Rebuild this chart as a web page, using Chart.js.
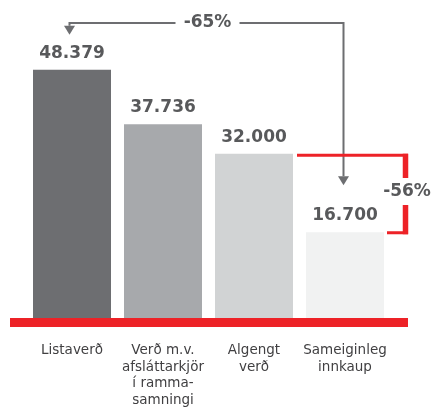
<!DOCTYPE html>
<html>
<head>
<meta charset="utf-8">
<script src="https://cdn.jsdelivr.net/npm/chart.js@4/dist/chart.umd.min.js"></script>
<style>
  html, body { margin: 0; padding: 0; background: #fff; }
  #wrap { width: 433px; height: 412px; }
</style>
</head>
<body>
<div id="wrap"><canvas id="priceChart" width="433" height="412"></canvas></div>
<script>
// Data
const categories = [
    'Listaverð',
    ['Verð m.v.', 'afsláttarkjör', 'í ramma-', 'samningi'],
    ['Algengt', 'verð'],
    ['Sameiginleg', 'innkaup']
];
const prices = [48379, 37736, 32000, 16700];
const valueLabels = ['48.379', '37.736', '32.000', '16.700'];
const barColors = ['#6d6e71', '#a7a9ac', '#d1d3d4', '#f1f2f2'];
const totalDrop = '-65%';
const groupDrop = '-56%';

const grayText = '#58595b';
const red = '#ed2227';
const numFont = 'bold 17px "DejaVu Sans"';

function arrowDown(ctx, x, y) {
    ctx.beginPath();
    ctx.moveTo(x - 5.5, y - 9);
    ctx.lineTo(x + 5.5, y - 9);
    ctx.lineTo(x, y);
    ctx.closePath();
    ctx.fill();
}

// Red baseline, value labels and brackets
const decorPlugin = {
    id: 'decor',
    afterDatasetsDraw(chart) {
        const ctx = chart.ctx;
        const bars = chart.getDatasetMeta(0).data;
        const y0 = chart.scales.y.getPixelForValue(0);
        const area = chart.chartArea;
        ctx.save();

        // baseline
        ctx.fillStyle = red;
        ctx.fillRect(area.left - 16.5, y0, area.right - area.left + 34, 9);

        // value labels
        ctx.fillStyle = grayText;
        ctx.font = numFont;
        ctx.textAlign = 'center';
        ctx.textBaseline = 'alphabetic';
        bars.forEach((bar, i) => {
            ctx.fillText(valueLabels[i], bar.x, bar.y - 12);
        });

        // gray -65% bracket
        const b1 = bars[0], b4 = bars[3];
        const topY = 23;
        const lx = b1.x - 2.5, rx = b4.x - 1.5;
        const textX = (bars[1].x + bars[2].x) / 2 - 1;
        ctx.strokeStyle = '#6d6e71';
        ctx.fillStyle = '#6d6e71';
        ctx.lineWidth = 2;
        ctx.beginPath();
        ctx.moveTo(lx, b1.y - 44);
        ctx.lineTo(lx, topY);
        ctx.lineTo(textX - 32, topY);
        ctx.moveTo(textX + 32, topY);
        ctx.lineTo(rx, topY);
        ctx.lineTo(rx, b4.y - 56);
        ctx.stroke();
        arrowDown(ctx, lx, b1.y - 35);
        arrowDown(ctx, rx, b4.y - 47);
        ctx.fillStyle = grayText;
        ctx.textBaseline = 'middle';
        ctx.fillText(totalDrop, textX, topY);

        // red -56% bracket
        const b3 = bars[2];
        const vx = area.right + 17.5;
        const ty = b3.y + 1.5, by = b4.y + 0.5;
        const midY = (ty + by) / 2 - 2;
        ctx.strokeStyle = red;
        ctx.lineWidth = 3;
        ctx.beginPath();
        ctx.moveTo(b3.x + b3.width / 2 + 4, ty);
        ctx.lineTo(vx, ty);
        ctx.moveTo(b4.x + b4.width / 2 + 3, by);
        ctx.lineTo(vx, by);
        ctx.stroke();
        ctx.lineWidth = 5.5;
        ctx.beginPath();
        ctx.moveTo(vx - 2.5, ty - 1.5);
        ctx.lineTo(vx - 2.5, midY - 14);
        ctx.moveTo(vx - 2.5, midY + 13);
        ctx.lineTo(vx - 2.5, by + 1.5);
        ctx.stroke();
        ctx.fillStyle = grayText;
        ctx.fillText(groupDrop, vx - 1, midY);

        ctx.restore();
    }
};

const ctx = document.getElementById('priceChart').getContext('2d');
new Chart(ctx, {
    type: 'bar',
    data: {
        labels: categories,
        datasets: [{
            data: prices,
            backgroundColor: barColors,
            borderWidth: 0,
            barPercentage: 78 / 91,
            categoryPercentage: 1
        }]
    },
    options: {
        responsive: false,
        animation: false,
        layout: { padding: { left: 26.5, right: 42.5, top: 10, bottom: 0 } },
        scales: {
            x: {
                grid: { display: false },
                border: { display: false },
                afterFit(scale) {
                    scale.height = 94;
                },
                ticks: {
                    color: '#414042',
                    padding: 16,
                    maxRotation: 0,
                    autoSkip: false,
                    font: { family: '"DejaVu Sans"', size: 13.5, lineHeight: 1.24 }
                }
            },
            y: {
                display: false,
                min: 0,
                max: 60000
            }
        },
        plugins: {
            legend: { display: false },
            tooltip: { enabled: false }
        }
    },
    plugins: [decorPlugin]
});
</script>
</body>
</html>
